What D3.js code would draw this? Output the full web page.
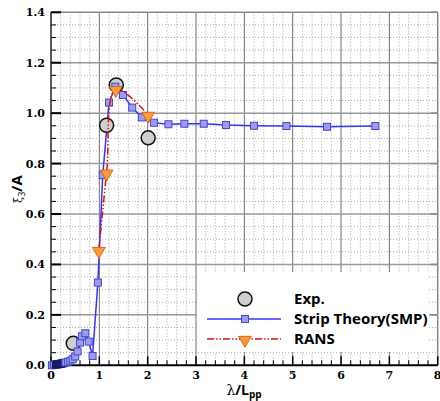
<!DOCTYPE html>
<html>
<head>
<meta charset="utf-8">
<script src="https://cdn.jsdelivr.net/npm/d3@7"></script>
<style>
  html, body { margin: 0; padding: 0; background: #fff; }
  #chart { width: 440px; height: 401px; }
  .tick-label { font-family: "DejaVu Serif", serif; font-weight: bold; font-size: 11px; fill: #000; }
  .legend-text { font-family: "Open Sans", sans-serif; font-weight: bold; font-size: 15px; fill: #000; }
</style>
</head>
<body>
<div id="chart"></div>
<script>
const WIDTH = 440;
const HEIGHT = 401;
const PLOT = { left: 51, right: 437.7, top: 12.3, bottom: 365.3 };

// x = lambda / Lpp, y = xi3 / A
const expX = [0.46, 1.15, 1.35, 2.01];
const expY = [0.087, 0.952, 1.112, 0.902];

const stripX = [0.02, 0.06, 0.10, 0.12, 0.14, 0.16, 0.18, 0.20, 0.22, 0.24, 0.26, 0.30, 0.35, 0.40, 0.45, 0.50, 0.55,
  0.60, 0.64, 0.71, 0.78, 0.86, 0.97, 1.07, 1.20, 1.33, 1.49, 1.68, 1.88, 2.13, 2.43, 2.76,
  3.16, 3.62, 4.20, 4.87, 5.71, 6.71];
const stripY = [0.0, 0.002, 0.003, 0.004, 0.004, 0.005, 0.005, 0.006, 0.007, 0.008, 0.009, 0.011, 0.014, 0.018, 0.024, 0.035, 0.055,
  0.09, 0.115, 0.127, 0.094, 0.037, 0.328, 0.754, 1.042, 1.105, 1.072, 1.022, 0.983, 0.962, 0.956, 0.958,
  0.958, 0.953, 0.950, 0.949, 0.946, 0.949];

const ransX = [0.99, 1.15, 1.34, 2.01];
const ransY = [0.457, 0.764, 1.095, 0.993];

const xTicks = [0, 1, 2, 3, 4, 5, 6, 7, 8];
const yTicks = [0, 0.2, 0.4, 0.6, 0.8, 1.0, 1.2, 1.4];
const legendLabels = ['Exp.', 'Strip Theory(SMP)', 'RANS'];

const svg = d3.select('#chart').append('svg')
  .attr('width', WIDTH)
  .attr('height', HEIGHT);

const x = d3.scaleLinear().domain([0, 8]).range([PLOT.left, PLOT.right]);
const y = d3.scaleLinear().domain([0, 1.4]).range([PLOT.bottom, PLOT.top]);

// grid
const grid = svg.append('g');
const xMinor = d3.range(0, 8.001, 0.2).filter(v => Math.abs(v - Math.round(v)) > 1e-6);
const yMinor = d3.range(0, 1.4001, 0.05).filter(v => Math.abs(v * 5 - Math.round(v * 5)) > 1e-6);

grid.selectAll('.xminor').data(xMinor).join('line')
  .attr('x1', d => x(d)).attr('x2', d => x(d))
  .attr('y1', PLOT.top).attr('y2', PLOT.bottom)
  .attr('stroke', '#aaa').attr('stroke-width', 1).attr('stroke-dasharray', '1,2');
grid.selectAll('.yminor').data(yMinor).join('line')
  .attr('x1', PLOT.left).attr('x2', PLOT.right)
  .attr('y1', d => y(d)).attr('y2', d => y(d))
  .attr('stroke', '#aaa').attr('stroke-width', 1).attr('stroke-dasharray', '1,2');
grid.selectAll('.xmajor').data(xTicks.slice(1, -1)).join('line')
  .attr('x1', d => x(d)).attr('x2', d => x(d))
  .attr('y1', PLOT.top).attr('y2', PLOT.bottom)
  .attr('stroke', '#707070').attr('stroke-width', 1);
grid.selectAll('.ymajor').data(yTicks.slice(1, -1)).join('line')
  .attr('x1', PLOT.left).attr('x2', PLOT.right)
  .attr('y1', d => y(d)).attr('y2', d => y(d))
  .attr('stroke', '#9a9a9a').attr('stroke-width', 1.5);

// frame: top and right lighter
svg.append('line').attr('x1', PLOT.left).attr('x2', PLOT.right).attr('y1', PLOT.top).attr('y2', PLOT.top)
  .attr('stroke', '#888').attr('stroke-width', 1.5);
svg.append('line').attr('x1', PLOT.right).attr('x2', PLOT.right).attr('y1', PLOT.top).attr('y2', PLOT.bottom)
  .attr('stroke', '#888').attr('stroke-width', 1.5);

// ticks inside the box
const ticks = svg.append('g');
ticks.selectAll('.ly').data(yTicks).join('line')
  .attr('x1', PLOT.left).attr('x2', PLOT.left + 10)
  .attr('y1', d => y(d)).attr('y2', d => y(d))
  .attr('stroke', '#000').attr('stroke-width', 2);
ticks.selectAll('.lym').data(yMinor).join('line')
  .attr('x1', PLOT.left).attr('x2', PLOT.left + 5)
  .attr('y1', d => y(d)).attr('y2', d => y(d))
  .attr('stroke', '#000').attr('stroke-width', 1);
ticks.selectAll('.ry').data(yTicks).join('line')
  .attr('x1', PLOT.right).attr('x2', PLOT.right - 7)
  .attr('y1', d => y(d)).attr('y2', d => y(d))
  .attr('stroke', '#888').attr('stroke-width', 1.5);

// legend background (drawn before bottom ticks so they stay visible)
svg.append('rect')
  .attr('x', 197).attr('y', 272).attr('width', 232).attr('height', 80)
  .attr('fill', '#fff');

ticks.selectAll('.bx').data(xTicks).join('line')
  .attr('x1', d => x(d)).attr('x2', d => x(d))
  .attr('y1', PLOT.bottom).attr('y2', PLOT.bottom - 9)
  .attr('stroke', '#000').attr('stroke-width', 1.5);
ticks.selectAll('.bxm').data(xMinor).join('line')
  .attr('x1', d => x(d)).attr('x2', d => x(d))
  .attr('y1', PLOT.bottom).attr('y2', PLOT.bottom - 5)
  .attr('stroke', '#000').attr('stroke-width', 1);

// axes lines
svg.append('line').attr('x1', PLOT.left).attr('x2', PLOT.left).attr('y1', PLOT.top).attr('y2', PLOT.bottom)
  .attr('stroke', '#222').attr('stroke-width', 1.5);
svg.append('line').attr('x1', PLOT.left).attr('x2', PLOT.right).attr('y1', PLOT.bottom).attr('y2', PLOT.bottom)
  .attr('stroke', '#000').attr('stroke-width', 2);

// tick labels
svg.selectAll('.xl').data(xTicks).join('text')
  .attr('class', 'tick-label')
  .attr('x', d => x(d)).attr('y', 379)
  .attr('text-anchor', 'middle')
  .text(d => d3.format('d')(d));
svg.selectAll('.yl').data(yTicks).join('text')
  .attr('class', 'tick-label')
  .attr('x', 45).attr('y', d => y(d) + 4)
  .attr('text-anchor', 'end')
  .text(d => d3.format('.1f')(d));

// axis titles
const xTitle = svg.append('text')
  .attr('x', 244).attr('y', 395)
  .attr('text-anchor', 'middle')
  .style('font-family', '"Open Sans", sans-serif').style('font-weight', 'bold').style('font-size', '14px');
xTitle.append('tspan').style('font-family', '"DejaVu Serif", serif').style('font-weight', 'normal').text('λ');
xTitle.append('tspan').text('/L');
xTitle.append('tspan').attr('dy', 3).style('font-size', '10px').text('pp');

const yTitle = svg.append('text')
  .attr('transform', 'translate(22,189) rotate(-90)')
  .attr('text-anchor', 'middle')
  .style('font-family', '"Open Sans", sans-serif').style('font-weight', 'bold').style('font-size', '15px');
yTitle.append('tspan').style('font-family', '"DejaVu Serif", serif').style('font-weight', 'normal').style('font-size', '11px').text('ξ');
yTitle.append('tspan').attr('dy', 3).style('font-size', '9px').style('font-weight', 'normal').text('3');
yTitle.append('tspan').attr('dy', -3).text('/A');

// series
const plot = svg.append('g');
const stripPts = stripX.map((v, i) => [v, stripY[i]]);
const ransPts = ransX.map((v, i) => [v, ransY[i]]);
const expPts = expX.map((v, i) => [v, expY[i]]);

const BLUE = '#3333ff';
const SQ_FILL = '#9c9cf0';
const SQ_STROKE = '#4646c8';
const RED = '#dd1111';
const TRI_FILL = '#ff9a3c';
const TRI_STROKE = '#d86a10';
const RED_DASH = '7,2,1.5,2,1.5,2';

const tri = d3.symbol().type(d3.symbolTriangle).size(70);

plot.append('path')
  .datum(stripPts)
  .attr('fill', 'none').attr('stroke', BLUE).attr('stroke-width', 1.5)
  .attr('d', d3.line().x(d => x(d[0])).y(d => y(d[1])));

plot.selectAll('.exp').data(expPts).join('circle')
  .attr('cx', d => x(d[0])).attr('cy', d => y(d[1])).attr('r', 7)
  .attr('fill', '#cfcfcf').attr('stroke', '#111').attr('stroke-width', 1.5);

// squares near the origin overlap heavily and read as dark navy
plot.selectAll('.sq').data(stripPts).join('rect')
  .attr('x', d => x(d[0]) - 3.5).attr('y', d => y(d[1]) - 3.5)
  .attr('width', 7).attr('height', 7)
  .attr('fill', d => d[0] > 0.08 && d[0] < 0.3 ? '#2a2a80' : SQ_FILL)
  .attr('stroke', d => d[0] > 0.08 && d[0] < 0.3 ? '#1a1a60' : SQ_STROKE)
  .attr('stroke-width', 1);

plot.append('path')
  .datum(ransPts)
  .attr('fill', 'none').attr('stroke', RED).attr('stroke-width', 1.5)
  .attr('stroke-dasharray', RED_DASH)
  .attr('d', d3.line().curve(d3.curveCatmullRom.alpha(0.5)).x(d => x(d[0])).y(d => y(d[1])));

plot.selectAll('.tri').data(ransPts).join('path')
  .attr('transform', d => `translate(${x(d[0])},${y(d[1]) + 1}) rotate(180)`)
  .attr('d', tri)
  .attr('fill', TRI_FILL).attr('stroke', TRI_STROKE).attr('stroke-width', 1);

// legend
const legend = svg.append('g');
const legendY = [299, 319, 339];
legend.append('circle').attr('cx', 245).attr('cy', legendY[0]).attr('r', 7)
  .attr('fill', '#cfcfcf').attr('stroke', '#111').attr('stroke-width', 1.5);
legend.append('line').attr('x1', 207).attr('x2', 281).attr('y1', legendY[1]).attr('y2', legendY[1])
  .attr('stroke', BLUE).attr('stroke-width', 1.5);
legend.append('rect').attr('x', 241.5).attr('y', legendY[1] - 3.5).attr('width', 7).attr('height', 7)
  .attr('fill', SQ_FILL).attr('stroke', SQ_STROKE);
legend.append('line').attr('x1', 207).attr('x2', 281).attr('y1', legendY[2]).attr('y2', legendY[2])
  .attr('stroke', RED).attr('stroke-width', 1.5).attr('stroke-dasharray', RED_DASH);
legend.append('path')
  .attr('transform', `translate(245,${legendY[2] + 1}) rotate(180)`)
  .attr('d', tri)
  .attr('fill', TRI_FILL).attr('stroke', TRI_STROKE);
legend.selectAll('.lt').data(legendLabels).join('text')
  .attr('class', 'legend-text')
  .attr('x', 294).attr('y', (d, i) => legendY[i] + 5)
  .text(d => d);
</script>
</body>
</html>
